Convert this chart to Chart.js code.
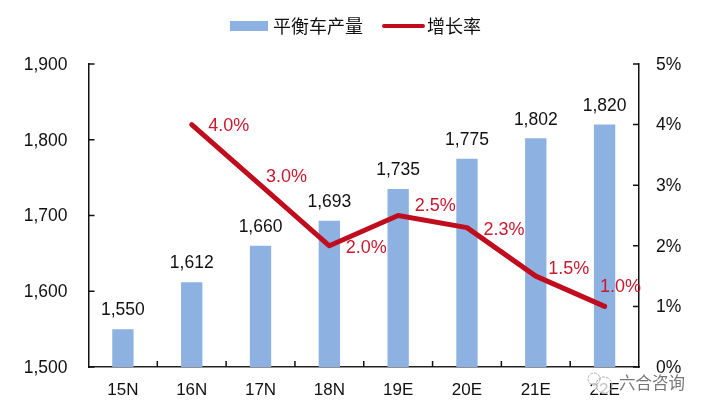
<!DOCTYPE html>
<html>
<head>
<meta charset="utf-8">
<title>平衡车产量</title>
<script src="https://cdn.jsdelivr.net/npm/chart.js@4"></script>
<style>
  html, body { margin: 0; padding: 0; background: #fff; }
  canvas { display: block; }
</style>
</head>
<body>
<canvas id="chart" width="708" height="413" style="width:708px;height:413px"></canvas>
<script>
const categories = ['15N', '16N', '17N', '18N', '19E', '20E', '21E', '22E'];
const production = [1550, 1612, 1660, 1693, 1735, 1775, 1802, 1820];
const growth = [null, 4.0, 3.0, 2.0, 2.5, 2.3, 1.5, 1.0];
const growthLabels = ['', '4.0%', '3.0%', '2.0%', '2.5%', '2.3%', '1.5%', '1.0%'];
// label centre relative to the point, px
const growthLabelDx = [0, 37, 26, 37, 37, 37, 33, 16];
const growthLabelDy = [0, 1, -8, 2, -9, 2, -7, -19];

const BLUE = '#8DB2E2';
const RED = '#C00D1E';
const RED_TEXT = '#C8192E';
const LATIN = '"Liberation Sans", Arial, sans-serif';
const CJK = '"Noto Sans CJK SC", sans-serif';

const decorations = {
  id: 'decorations',
  afterDatasetsDraw(chart) {
    const { ctx, scales: { x, y, y1 }, chartArea: a } = chart;
    const step = x.getPixelForValue(1) - x.getPixelForValue(0);
    ctx.save();

    // inward tick marks
    ctx.strokeStyle = '#111';
    ctx.lineWidth = 1.5;
    ctx.beginPath();
    y.ticks.forEach(t => {
      const p = y.getPixelForValue(t.value);
      ctx.moveTo(a.left, p);
      ctx.lineTo(a.left + 6, p);
    });
    y1.ticks.forEach(t => {
      const p = y1.getPixelForValue(t.value);
      ctx.moveTo(a.right, p);
      ctx.lineTo(a.right - 6, p);
    });
    categories.slice(1).forEach((c, i) => {
      const p = x.getPixelForValue(i) + step / 2;
      ctx.moveTo(p, a.bottom);
      ctx.lineTo(p, a.bottom - 6);
    });
    ctx.stroke();

    // value labels
    ctx.textAlign = 'center';
    ctx.textBaseline = 'middle';
    ctx.font = '17.5px ' + LATIN;
    ctx.fillStyle = '#111';
    production.forEach((v, i) => {
      ctx.fillText(v.toLocaleString('en-US'), x.getPixelForValue(i), y.getPixelForValue(v) - 18.5);
    });
    ctx.font = '18px ' + LATIN;
    ctx.fillStyle = RED_TEXT;
    growth.forEach((v, i) => {
      if (v === null) return;
      ctx.fillText(growthLabels[i], x.getPixelForValue(i) + growthLabelDx[i], y1.getPixelForValue(v) + growthLabelDy[i]);
    });

    // legend
    ctx.fillStyle = BLUE;
    ctx.fillRect(230, 21, 38, 10);
    ctx.strokeStyle = RED;
    ctx.lineWidth = 4;
    ctx.lineCap = 'round';
    ctx.beginPath();
    ctx.moveTo(384, 26);
    ctx.lineTo(423, 26);
    ctx.stroke();
    ctx.fillStyle = '#111';
    ctx.textAlign = 'left';
    ctx.font = '18px ' + CJK;
    ctx.fillText('平衡车产量', 273, 26);
    ctx.fillText('增长率', 427, 26);

    // watermark
    ctx.fillStyle = 'rgba(255,255,255,0.75)';
    ctx.beginPath();
    ctx.arc(601, 384, 9, 0, Math.PI * 2);
    ctx.fill();
    ctx.strokeStyle = '#aaa';
    ctx.lineWidth = 1;
    ctx.setLineDash([2, 2]);
    [[594, 379, 6], [604, 385, 8]].forEach(c => {
      ctx.beginPath();
      ctx.arc(c[0], c[1], c[2], 0, Math.PI * 2);
      ctx.stroke();
    });
    ctx.setLineDash([]);
    ctx.font = '16.5px ' + CJK;
    ctx.lineWidth = 3;
    ctx.lineJoin = 'round';
    ctx.strokeStyle = 'rgba(255,255,255,0.85)';
    ctx.strokeText('六合咨询', 619, 383);
    ctx.fillStyle = '#777';
    ctx.fillText('六合咨询', 619, 383);
    ctx.restore();
  }
};

new Chart(document.getElementById('chart').getContext('2d'), {
  data: {
    labels: categories,
    datasets: [
      {
        type: 'line',
        label: '增长率',
        data: growth,
        yAxisID: 'y1',
        borderColor: RED,
        borderWidth: 5,
        borderCapStyle: 'round',
        borderJoinStyle: 'round',
        pointRadius: 0,
        tension: 0,
        order: 0
      },
      {
        type: 'bar',
        label: '平衡车产量',
        data: production,
        yAxisID: 'y',
        backgroundColor: BLUE,
        barPercentage: 0.31,
        categoryPercentage: 1,
        order: 1
      }
    ]
  },
  options: {
    responsive: false,
    animation: false,
    layout: { padding: { top: 64 } },
    plugins: { legend: { display: false }, tooltip: { enabled: false } },
    scales: {
      x: {
        afterFit: s => { s.height = 46; },
        grid: { display: false },
        border: { color: '#222', width: 1.5 },
        ticks: { color: '#111', padding: 5, maxRotation: 0, font: { family: LATIN, size: 17 } }
      },
      y: {
        position: 'left',
        min: 1500,
        max: 1900,
        afterFit: s => { s.width = 88.5; },
        grid: { display: false, drawTicks: false },
        border: { color: '#111', width: 1.5 },
        ticks: {
          stepSize: 100,
          color: '#111',
          padding: 21,
          labelOffset: 1,
          callback: v => v.toLocaleString('en-US'),
          font: { family: LATIN, size: 17.5 }
        }
      },
      y1: {
        position: 'right',
        min: 0,
        max: 5,
        afterFit: s => { s.width = 69; },
        grid: { display: false, drawTicks: false },
        border: { color: '#111', width: 1.5 },
        ticks: {
          stepSize: 1,
          color: '#111',
          padding: 17,
          labelOffset: 1,
          callback: v => v + '%',
          font: { family: LATIN, size: 17.5 }
        }
      }
    }
  },
  plugins: [decorations]
});
</script>
</body>
</html>
